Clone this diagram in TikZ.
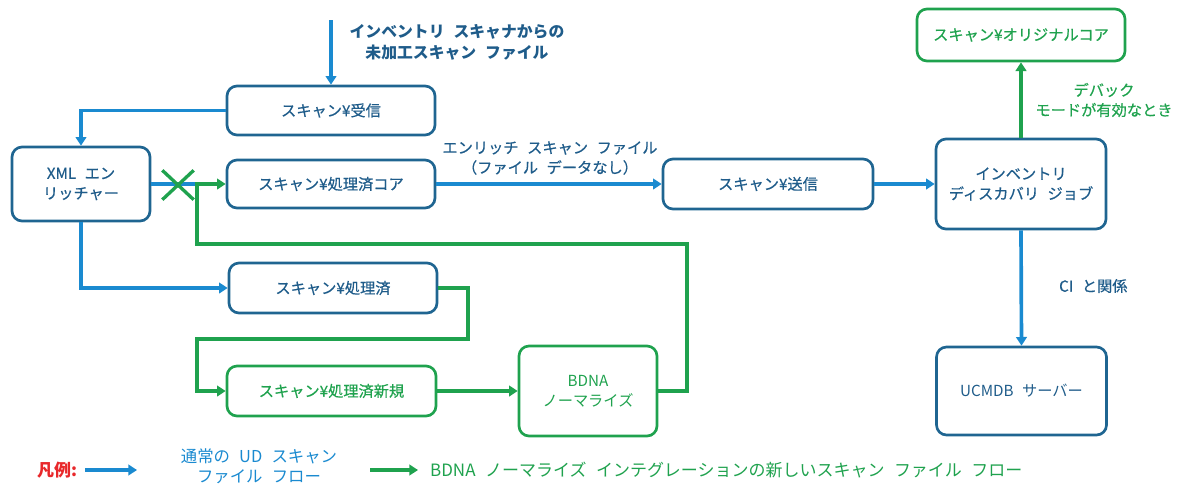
\documentclass[tikz,border=0pt]{standalone}
\usepackage{fontspec}
\setmainfont{Noto Sans CJK JP}[WordSpace=2.5]
\newfontfamily\boxfont{Noto Sans CJK JP}[WordSpace=2.5, FakeBold=0.5]
\usetikzlibrary{arrows.meta,positioning,calc,shapes.misc}
\definecolor{boxblue}{HTML}{1F6591}
\definecolor{textblue}{HTML}{1F5C8A}
\definecolor{flowblue}{HTML}{1A8AD0}
\definecolor{flowgreen}{HTML}{1FA24E}
\definecolor{legendred}{HTML}{E8282B}

\begin{document}
\begin{tikzpicture}[x=0.3mm, y=-0.3mm,
        font=\boxfont\fontsize{13}{17}\selectfont,
        bline/.style={line width=1.1mm, flowblue},
        gline/.style={line width=1.1mm, flowgreen},
        arrow/.style={bline, -{Triangle[length=2.6mm,width=3.2mm]}},
        garrow/.style={gline, -{Triangle[length=2.6mm,width=3.2mm]}},
        box/.style={draw=boxblue, line width=0.8mm, rounded corners=3mm, align=center,
                   text=textblue, minimum width=62.4mm, minimum height=14.7mm},
        gbox/.style={box, draw=flowgreen, text=flowgreen},
        bigbox/.style={box, minimum width=51mm, minimum height=27mm},
        note/.style={align=center, text=textblue}
    ]
        \useasboundingbox (0,0) rectangle (1186,485);

        \node[box] (recv) at (331,110.5) {スキャン¥受信};
        \node[box, minimum width=41.4mm, minimum height=22.2mm] (xml) at (81,184) {XML エン\\リッチャー};
        \node[box, minimum height=14.4mm] (core) at (331,184) {スキャン¥処理済コア};
        \node[box, minimum width=63mm, minimum height=15mm] (send) at (768,184) {スキャン¥送信};
        \node[bigbox] (inv) at (1021,184) {インベントリ\\ディスカバリ ジョブ};
        \node[gbox, minimum height=15.6mm] (orig) at (1021,35) {スキャン¥オリジナルコア};
        \node[bigbox, minimum height=26.4mm, font=\rmfamily\fontsize{13}{17}\selectfont] (ucmdb) at (1021.5,391) {UCMDB サーバー};
        \node[box, minimum height=15mm] (proc) at (333,288) {スキャン¥処理済};
        \node[gbox, minimum width=62.7mm, minimum height=15mm] (procnew) at (331.5,391) {スキャン¥処理済新規};
        \node[gbox, minimum width=41.4mm, minimum height=27mm, font=\rmfamily\fontsize{13}{17}\selectfont] (bdna) at (588,391) {BDNA\\ノーマライズ};

        \coordinate (src) at (331,20);
        \draw[arrow] (src) -- (recv.north);
        \node[note, font=\rmfamily\fontsize{13.5}{18}\selectfont\bfseries] (srcnote) at (457,42) {インベントリ スキャナからの\\未加工スキャン ファイル};

        \draw[arrow] (recv.west) -| (xml.north);
        \coordinate (cut) at (195,184);
        \draw[bline] (xml.east) -- (cut);
        \node[cross out, draw=flowgreen, line width=1mm, minimum width=8.4mm, minimum height=7.8mm] (block) at (178,185) {};

        \draw[arrow] (core.east) -- (send.west);
        \node[note] (enrichnote) at (550,158) {エンリッチ スキャン ファイル\\（ファイル データなし）};
        \draw[arrow] (send.east) -- (inv.west);

        \draw[garrow] (inv.north) -- (orig.south);
        \node[note, text=flowgreen] (debugnote) at (1104,100) {デバック\\モードが有効なとき};
        \draw[arrow] (inv.south) -- (ucmdb.north);
        \node[note, anchor=west] (cinote) at (1055,286) {CI と関係};

        \draw[arrow] (xml.south) |- (proc.west);
        \coordinate (procturn) at (468,339);
        \coordinate (procleft) at (197,339);
        \draw[garrow] (proc.east) -| (procturn) -- (procleft) |- (procnew.west);
        \draw[garrow] (procnew.east) -- (bdna.west);
        \coordinate (bdnaup) at (687,244);
        \coordinate (backleft) at (197,244);
        \draw[garrow] (bdna.east) -| (bdnaup) -- (backleft) |- (core.west);

        \node[font=\rmfamily\fontsize{14.5}{18}\selectfont\bfseries, text=legendred] (legend) at (57,470) {凡例:};
        \coordinate (lb1) at (85,470);
        \coordinate (lb2) at (137,470);
        \draw[arrow] (lb1) -- (lb2);
        \node[note, text=flowblue, font=\fontsize{14}{17}\selectfont] (udnote) at (259,466) {通常の UD スキャン\\ファイル フロー};
        \coordinate (lg1) at (370,470);
        \coordinate (lg2) at (418,470);
        \draw[garrow] (lg1) -- (lg2);
        \node[anchor=west, text=flowgreen, font=\fontsize{14.5}{18}\selectfont] (bdnanote) at (426,470) {BDNA ノーマライズ インテグレーションの新しいスキャン ファイル フロー};
    \end{tikzpicture}
\end{document}
